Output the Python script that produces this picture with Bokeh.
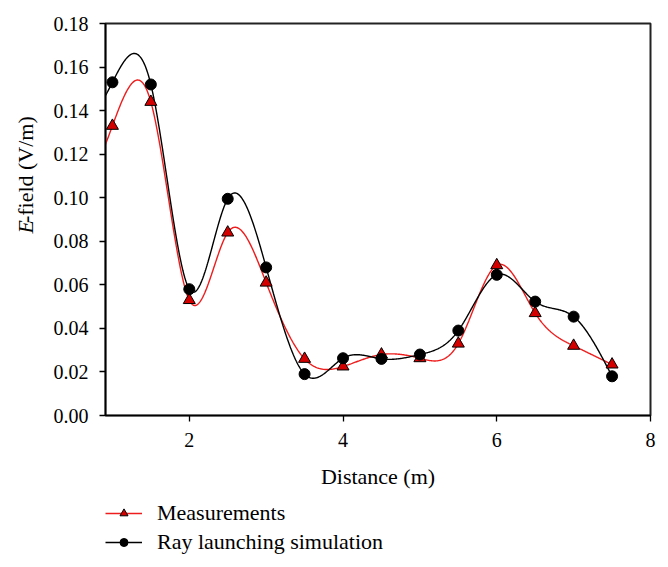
import numpy as np
from bokeh.plotting import figure
from bokeh.layouts import column, row
from bokeh.models import (Range1d, FixedTicker, PrintfTickFormatter, Legend, LegendItem,
                          Label)
from bokeh.embed import file_html
from bokeh.resources import INLINE

# ---- data ----
distance = [1.0, 1.5, 2.0, 2.5, 3.0, 3.5, 4.0, 4.5, 5.0, 5.5, 6.0, 6.5, 7.0, 7.5]
measurements = [0.133, 0.144, 0.053, 0.084, 0.061, 0.026, 0.0225, 0.028, 0.0263,
                0.033, 0.069, 0.047, 0.032, 0.0234]
simulation = [0.153, 0.152, 0.058, 0.0995, 0.068, 0.019, 0.0263, 0.026, 0.028,
              0.039, 0.0646, 0.0523, 0.0454, 0.018]
x_ticks = [2, 4, 6, 8]
y_ticks = [0.00, 0.02, 0.04, 0.06, 0.08, 0.10, 0.12, 0.14, 0.16, 0.18]
series_names = ["Measurements", "Ray launching simulation"]

X_START, X_END = 0.91, 8.0
Y_START, Y_END = 0.0, 0.18
FONT = "Liberation Serif"
RED = "#ee1c1c"
TRI_FILL = "#d40000"

# layout sizes (pixels)
STRIP_W = 40          # strip that holds the y-axis title
MAIN_W, MAIN_H = 626, 500
LEG_H = 62


def natural_spline(xs, ys, xq):
    """Smooth curve through the data points (like SigmaPlot's spline line)."""
    xs = np.asarray(xs, float)
    ys = np.asarray(ys, float)
    n = len(xs)
    h = np.diff(xs)
    A = np.zeros((n, n))
    b = np.zeros(n)
    A[0, 0] = 1.0
    A[-1, -1] = 1.0
    for i in range(1, n - 1):
        A[i, i - 1] = h[i - 1]
        A[i, i] = 2 * (h[i - 1] + h[i])
        A[i, i + 1] = h[i]
        b[i] = 6 * ((ys[i + 1] - ys[i]) / h[i] - (ys[i] - ys[i - 1]) / h[i - 1])
    M = np.linalg.solve(A, b)
    idx = np.clip(np.searchsorted(xs, xq) - 1, 0, n - 2)
    x0 = xs[idx]
    x1 = xs[idx + 1]
    hh = x1 - x0
    t0 = x1 - xq
    t1 = xq - x0
    return (M[idx] * t0 ** 3 / (6 * hh) + M[idx + 1] * t1 ** 3 / (6 * hh)
            + (ys[idx] / hh - M[idx] * hh / 6) * t0
            + (ys[idx + 1] / hh - M[idx + 1] * hh / 6) * t1)


def blank_figure(w, h):
    f = figure(width=w, height=h, x_range=Range1d(0, w), y_range=Range1d(0, h),
               x_axis_location=None, y_axis_location=None,
               output_backend="svg", toolbar_location=None, min_border=0)
    f.xgrid.visible = False
    f.ygrid.visible = False
    f.outline_line_color = None
    f.background_fill_color = "white"
    f.border_fill_color = "white"
    return f


# ---------------- main chart ----------------
p = figure(width=MAIN_W, height=MAIN_H,
           x_range=Range1d(X_START, X_END), y_range=Range1d(Y_START, Y_END),
           output_backend="svg", toolbar_location=None,
           min_border_left=65, min_border_right=16,
           min_border_top=23, min_border_bottom=85)

p.xgrid.visible = False
p.ygrid.visible = False
p.outline_line_color = "#222222"
p.outline_line_width = 2
p.background_fill_color = "white"
p.border_fill_color = "white"

for ax in (p.xaxis[0], p.yaxis[0]):
    ax.axis_line_color = "black"
    ax.axis_line_width = 1.6
    ax.major_tick_line_color = "black"
    ax.major_tick_line_width = 1.3
    ax.major_tick_in = 0
    ax.major_tick_out = 6
    ax.minor_tick_line_color = None
    ax.major_label_text_font = FONT
    ax.major_label_text_font_size = "20px"
    ax.major_label_text_color = "black"
    ax.axis_label_text_font = FONT
    ax.axis_label_text_font_size = "22px"
    ax.axis_label_text_font_style = "normal"
    ax.axis_label_text_color = "black"

p.xaxis.ticker = FixedTicker(ticks=x_ticks)
p.xaxis.axis_label = "Distance (m)"
p.xaxis.major_label_standoff = 11
p.xaxis.axis_label_standoff = 14

p.yaxis.ticker = FixedTicker(ticks=y_ticks)
p.yaxis.formatter = PrintfTickFormatter(format="%.2f")
p.yaxis.major_label_standoff = 11

xq = np.linspace(X_START, distance[-1], 800)
p.line(xq, natural_spline(distance, measurements, xq), line_color=RED, line_width=1.4)
p.line(xq, natural_spline(distance, simulation, xq), line_color="black", line_width=1.4)
p.scatter(distance, measurements, marker="triangle", size=12,
          fill_color=TRI_FILL, line_color="black", line_width=1)
p.scatter(distance, simulation, marker="circle", size=11,
          fill_color="black", line_color="black", line_width=1)

# ---------------- y-axis title strip: italic "E" + "-field (V/m)" ----------------
pl = blank_figure(STRIP_W, MAIN_H)
pl.add_layout(Label(x=25, y=MAIN_H - 268, text="E", angle=np.pi / 2,
                    text_font=FONT, text_font_style="italic", text_font_size="22px",
                    text_align="left", text_baseline="middle", text_color="black"))
pl.add_layout(Label(x=25, y=MAIN_H - 254.6, text="-field (V/m)", angle=np.pi / 2,
                    text_font=FONT, text_font_size="22px",
                    text_align="left", text_baseline="middle", text_color="black"))

# ---------------- legend strip (hidden renderers only supply the legend glyphs) ----------------
pg = blank_figure(STRIP_W + MAIN_W, LEG_H)
lm = pg.line(distance, measurements, line_color=RED, line_width=1.4, visible=False)
sm = pg.scatter(distance, measurements, marker="triangle", fill_color=TRI_FILL,
                line_color="black", line_width=1, visible=False)
ls = pg.line(distance, simulation, line_color="black", line_width=1.4, visible=False)
ss = pg.scatter(distance, simulation, marker="circle", fill_color="black",
                line_color="black", line_width=1, visible=False)
legend = Legend(items=[LegendItem(label=series_names[0], renderers=[lm, sm]),
                       LegendItem(label=series_names[1], renderers=[ls, ss])],
                location=(105, 7), padding=0, margin=0, spacing=3,
                glyph_width=37, glyph_height=20, label_height=20, label_standoff=15,
                label_text_font=FONT, label_text_font_size="22px",
                label_text_color="black", inactive_fill_alpha=0,
                click_policy="none",
                border_line_color=None, background_fill_alpha=0)
pg.add_layout(legend)

layout = column(row(pl, p), pg)
open("out.html", "w").write(file_html(layout, INLINE))
